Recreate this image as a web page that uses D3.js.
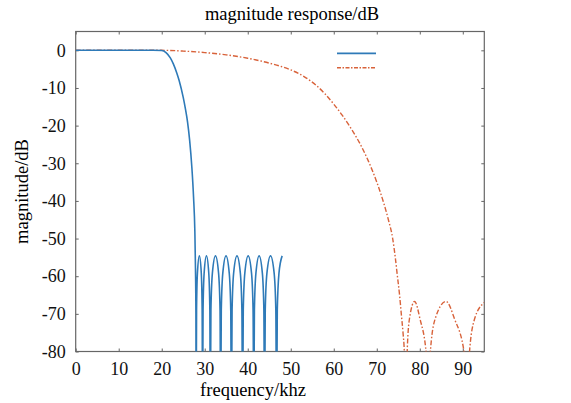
<!DOCTYPE html>
<html>
<head>
<meta charset="utf-8">
<script src="https://cdn.jsdelivr.net/npm/d3@7"></script>
<style>
  body { margin: 0; background: #fff; }
  svg { display: block; font-family: "Liberation Serif", "Times New Roman", serif; }
</style>
</head>
<body>
<div id="chart"></div>
<script>
// tick values
var xTicks = [0, 10, 20, 30, 40, 50, 60, 70, 80, 90];
var yTicks = [0, -10, -20, -30, -40, -50, -60, -70, -80];

// blue filter: frequency (khz) and magnitude (dB)
var blueFreq = [0, 10, 18, 20, 21, 22, 22.7, 23.5, 24.05, 25, 25.5, 26, 26.5, 27, 27.4, 27.7, 27.85, 27.95, 28.0,
  28.1, 28.3, 28.75, 29.2, 29.4, 29.5,
  29.61, 29.86, 30.4, 30.94, 31.19, 31.3,
  31.44, 31.78, 32.5, 33.22, 33.56, 33.7,
  33.85, 34.2, 34.95, 35.7, 36.05, 36.2,
  36.36, 36.72, 37.5, 38.28, 38.64, 38.8,
  38.96, 39.32, 40.1, 40.88, 41.24, 41.4,
  41.55, 41.9, 42.65, 43.4, 43.75, 43.9,
  44.07, 44.46, 45.3, 46.14, 46.53, 46.7,
  46.87, 47.26, 48.0];
var blueDb = [0, 0, 0, -0.05, -0.6, -2, -3.6, -6, -8, -12.5, -15.5, -19, -24, -31, -39, -48, -58, -70, -100,
  -69, -59.2, -54.6, -59.2, -69, -100,
  -69, -59.2, -54.6, -59.2, -69, -100,
  -69, -59.2, -54.6, -59.2, -69, -100,
  -69, -59.2, -54.6, -59.2, -69, -100,
  -69, -59.2, -54.6, -59.2, -69, -100,
  -69, -59.2, -54.6, -59.2, -69, -100,
  -69, -59.2, -54.6, -59.2, -69, -100,
  -69, -59.2, -54.6, -59.2, -69, -100,
  -69, -59.2, -54.6];

// red filter: frequency (khz) and magnitude (dB)
var redFreq = [0, 10, 20, 25, 30, 35, 40, 45, 50, 53, 56, 58, 60, 62, 64, 66, 68, 70, 71.6, 72.7, 73.7, 74.3, 74.8, 75.3, 75.7, 76.1, 76.4, 76.8,
  77.04, 77.6, 78.8, 80.04, 81.53, 81.9,
  82.4, 83.58, 86.1, 88.06, 90.41, 91.0,
  91.5, 92.7, 95];
var redDb = [0, 0, 0, -0.2, -0.6, -1.2, -2.1, -3.4, -5.2, -6.9, -9.4, -11.6, -14.3, -17.3, -20.7, -24.6, -29.3, -35, -40.5, -45, -50, -55, -60, -65, -70, -75, -80, -100,
  -81, -71.3, -66.7, -71.3, -81, -100,
  -81, -71.3, -66.7, -71.3, -81, -100,
  -81, -71.5, -67];

var W = 571, H = 403;
var margin = {top: 31.5, right: 86.7, bottom: 51.5, left: 75.7},
    width = W - margin.left - margin.right,
    height = H - margin.top - margin.bottom;

var svg = d3.select("#chart").append("svg")
    .attr("width", W)
    .attr("height", H);

var g = svg.append("g")
    .attr("transform", "translate(" + margin.left + "," + margin.top + ")");

var x = d3.scaleLinear().domain([0, 95]).range([0, width]);
var y = d3.scaleLinear().domain([-80, 5]).range([height, 0]);

g.append("clipPath").attr("id", "clip")
  .append("rect").attr("width", width).attr("height", height);

var axisColor = "#666";
var plain = function(d) { return String(d); }; // hyphen minus, like the original

// axes with inward ticks on all four sides
function styleAxis(sel) {
  sel.attr("font-family", null);
  sel.select(".domain").remove();
  sel.selectAll("line").attr("stroke", axisColor).attr("stroke-width", 1);
  sel.selectAll("text")
    .style("font-family", "'Liberation Serif', 'Times New Roman', serif")
    .style("font-size", "18px").attr("fill", "#111");
}

g.append("g")
  .attr("transform", "translate(0," + height + ")")
  .call(d3.axisBottom(x).tickValues(xTicks).tickFormat(plain).tickSize(-3).tickPadding(11))
  .call(styleAxis);

g.append("g")
  .call(d3.axisLeft(y).tickValues(yTicks).tickFormat(plain).tickSize(-3).tickPadding(10))
  .call(styleAxis);

g.append("g")
  .call(d3.axisTop(x).tickValues(xTicks).tickSize(-3).tickFormat(""))
  .call(styleAxis);

g.append("g")
  .attr("transform", "translate(" + width + ",0)")
  .call(d3.axisRight(y).tickValues(yTicks).tickSize(-3).tickFormat(""))
  .call(styleAxis);

g.append("rect")
  .attr("width", width).attr("height", height)
  .attr("fill", "none").attr("stroke", axisColor).attr("stroke-width", 1.2);

var line = d3.line()
  .x(function(d) { return x(d[0]); })
  .y(function(d) { return y(d[1]); })
  .curve(d3.curveMonotoneX);

var blue = blueFreq.map(function(f, i) { return [f, blueDb[i]]; });
var red = redFreq.map(function(f, i) { return [f, redDb[i]]; });

var blueColor = "#2e7ab8", redColor = "#d8623a";

g.append("path")
  .datum(red)
  .attr("clip-path", "url(#clip)")
  .attr("fill", "none")
  .attr("stroke", redColor)
  .attr("stroke-width", 1.4)
  .attr("stroke-dasharray", "5,2,1.5,2")
  .attr("d", line);

g.append("path")
  .datum(blue)
  .attr("clip-path", "url(#clip)")
  .attr("fill", "none")
  .attr("stroke", blueColor)
  .attr("stroke-width", 1.6)
  .attr("d", line);

// legend (lines only)
var legend = svg.append("g");
legend.append("line")
  .attr("x1", 337).attr("x2", 376).attr("y1", 53.3).attr("y2", 53.3)
  .attr("stroke", blueColor).attr("stroke-width", 1.8);
legend.append("line")
  .attr("x1", 337).attr("x2", 376).attr("y1", 67.7).attr("y2", 67.7)
  .attr("stroke", redColor).attr("stroke-width", 1.6)
  .attr("stroke-dasharray", "4,1.5,1.5,1.5");

// title and labels
svg.append("text")
  .attr("x", 292).attr("y", 20)
  .attr("text-anchor", "middle")
  .style("font-size", "18.5px")
  .text("magnitude response/dB");

svg.append("text")
  .attr("x", 253).attr("y", 396)
  .attr("text-anchor", "middle")
  .style("font-size", "18.5px")
  .text("frequency/khz");

svg.append("text")
  .attr("transform", "translate(28," + (margin.top + height / 2) + ") rotate(-90)")
  .attr("text-anchor", "middle")
  .style("font-size", "18.5px")
  .text("magnitude/dB");
</script>
</body>
</html>
